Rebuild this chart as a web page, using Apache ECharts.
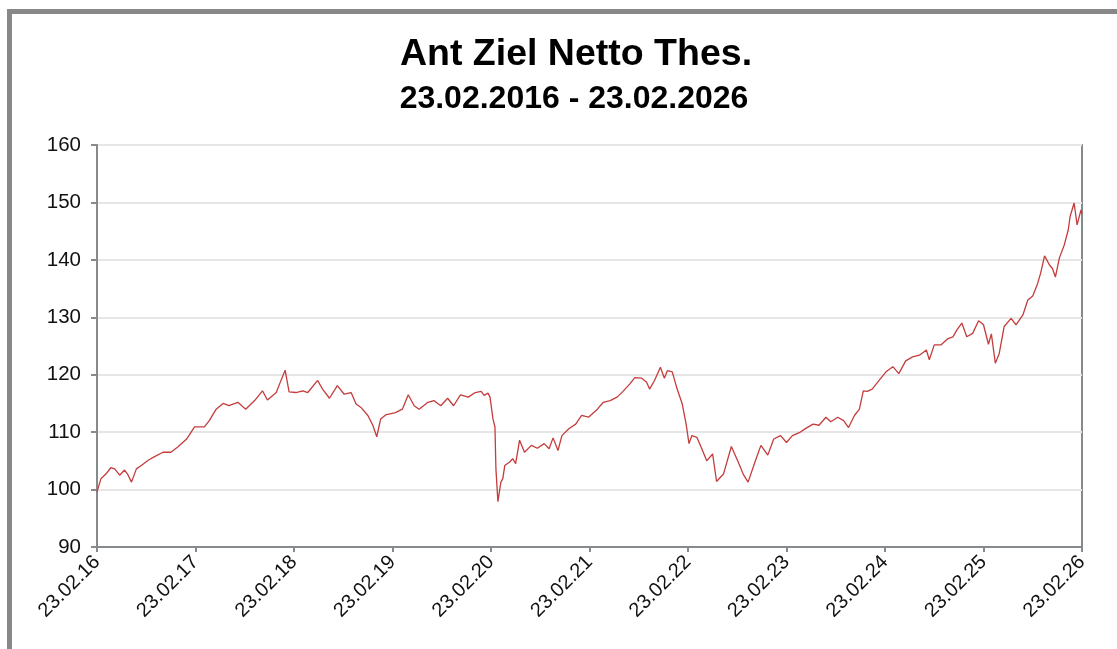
<!DOCTYPE html>
<html>
<head>
<meta charset="utf-8">
<script src="https://cdn.jsdelivr.net/npm/echarts@6/dist/echarts.min.js"></script>
<style>
html,body{margin:0;padding:0;background:#fff;}
#c{width:1117px;height:649px;}
</style>
</head>
<body>
<div id="c"></div>
<script>
var titleText = 'Ant Ziel Netto Thes.';
var subtitleText = '23.02.2016 - 23.02.2026';
var tickLabels = ['23.02.16','23.02.17','23.02.18','23.02.19','23.02.20','23.02.21','23.02.22','23.02.23','23.02.24','23.02.25','23.02.26'];
// years since 23.02.2016
var years = [
0.00,0.04,0.09,0.14,0.18,0.23,0.28,0.31,0.35,0.40,0.45,0.52,0.58,0.67,0.75,0.82,0.91,0.99,
1.09,1.14,1.21,1.28,1.34,1.43,1.51,1.60,1.68,1.73,1.82,1.87,1.91,1.95,
2.02,2.09,2.14,2.24,2.29,2.36,2.44,2.51,2.58,2.63,2.68,2.75,2.80,2.84,2.88,2.93,
3.03,3.10,3.16,3.22,3.27,3.36,3.42,3.49,3.56,3.62,3.69,3.77,3.84,3.90,3.93,3.97,3.99,
4.02,4.04,4.05,4.07,4.10,4.12,4.14,4.19,4.22,4.25,4.29,4.34,4.41,4.47,4.54,4.59,4.63,4.68,4.72,4.79,4.86,4.92,4.99,
5.08,5.14,5.21,5.28,5.34,5.41,5.46,5.53,5.58,5.61,5.66,5.72,5.76,5.79,5.84,5.89,5.94,5.98,
6.01,6.04,6.09,6.14,6.19,6.25,6.29,6.36,6.44,6.51,6.56,6.61,6.68,6.74,6.81,6.87,6.94,
7.00,7.06,7.13,7.20,7.27,7.33,7.40,7.45,7.52,7.58,7.63,7.69,7.74,7.78,7.82,7.87,7.94,
8.01,8.08,8.14,8.21,8.28,8.35,8.42,8.45,8.50,8.57,8.64,8.69,8.73,8.78,8.83,8.89,8.95,
9.00,9.05,9.08,9.12,9.16,9.21,9.28,9.33,9.40,9.45,9.50,9.55,9.58,9.62,9.67,9.70,9.73,9.77,9.82,9.86,9.88,9.92,9.95,9.99,10.00
];
var values = [
99.6,101.9,102.7,103.8,103.6,102.5,103.4,102.7,101.3,103.6,104.2,105.1,105.7,106.5,106.5,107.4,108.8,110.9,
110.9,112.0,114.0,115.0,114.6,115.2,114.0,115.5,117.2,115.6,116.9,119.1,120.8,117.0,
116.9,117.2,116.9,119.0,117.5,115.9,118.1,116.6,116.9,114.9,114.3,112.9,111.2,109.2,112.3,113.0,
113.4,114.0,116.5,114.6,114.0,115.2,115.5,114.6,115.9,114.6,116.5,116.1,116.9,117.1,116.4,116.8,116.1,
112.3,110.9,103.6,97.9,101.3,101.9,104.2,104.8,105.4,104.5,108.6,106.5,107.7,107.2,108.0,107.1,109.0,106.8,109.4,110.6,111.4,112.9,112.6,
114.0,115.2,115.5,116.1,117.1,118.4,119.5,119.4,118.7,117.5,119.0,121.3,119.4,120.7,120.5,117.5,115.0,111.5,
108.0,109.4,109.1,107.1,105.0,106.2,101.4,102.7,107.5,104.8,102.7,101.3,104.8,107.7,106.0,108.8,109.4,
108.2,109.4,109.9,110.7,111.4,111.2,112.6,111.8,112.6,112.0,110.8,112.9,114.0,117.2,117.1,117.5,119.0,
120.5,121.4,120.2,122.4,123.1,123.4,124.3,122.6,125.2,125.2,126.3,126.6,127.8,129.0,126.6,127.2,129.4,
128.7,125.3,127.1,122.0,123.7,128.4,129.8,128.7,130.4,133.0,133.7,135.9,137.7,140.7,139.1,138.5,137.0,140.3,142.6,145.2,147.6,149.9,146.1,148.7,148.0
];

var chart = echarts.init(document.getElementById('c'), null, {renderer:'canvas'});
var font = 'Liberation Sans, Arial, sans-serif';
chart.setOption({
  animation:false,
  backgroundColor:'#ffffff',
  title:[
    {text:titleText, left:571, top:31, textAlign:'center',
     textStyle:{fontFamily:font, fontWeight:'bold', fontSize:37.5, color:'#000'}},
    {text:subtitleText, left:569, top:78, textAlign:'center',
     textStyle:{fontFamily:font, fontWeight:'bold', fontSize:32, color:'#000'}}
  ],
  graphic:[
    {type:'rect', shape:{x:7, y:9, width:1110, height:5}, style:{fill:'#888888'}},
    {type:'rect', shape:{x:7, y:9, width:5, height:640}, style:{fill:'#888888'}}
  ],
  grid:{left:97, right:35, top:145, bottom:102, show:true, borderColor:'#858a8c', borderWidth:2, backgroundColor:'transparent'},
  xAxis:{
    type:'value', min:0, max:10, interval:1,
    axisLine:{show:true, onZero:false, lineStyle:{color:'#858a8c', width:2}},
    axisTick:{show:true, length:5, lineStyle:{color:'#858a8c', width:2}},
    splitLine:{show:false},
    axisLabel:{rotate:45, margin:12, fontFamily:font, fontSize:20, color:'#111',
      formatter:function(v){ return tickLabels[Math.round(v)] || ''; }}
  },
  yAxis:{
    type:'value', min:90, max:160, interval:10,
    axisLine:{show:true, lineStyle:{color:'#858a8c', width:2}},
    axisTick:{show:true, length:6, lineStyle:{color:'#858a8c', width:2}},
    splitLine:{show:true, lineStyle:{color:'#e6e6e6', width:2}},
    axisLabel:{margin:16, fontFamily:font, fontSize:20.5, color:'#111'}
  },
  series:[{
    type:'line', showSymbol:false, symbol:'none',
    data: years.map(function(t,i){ return [t, values[i]]; }),
    lineStyle:{color:'#c43c3c', width:1.3},
    itemStyle:{color:'#c43c3c'}
  }]
});
</script>
</body>
</html>
